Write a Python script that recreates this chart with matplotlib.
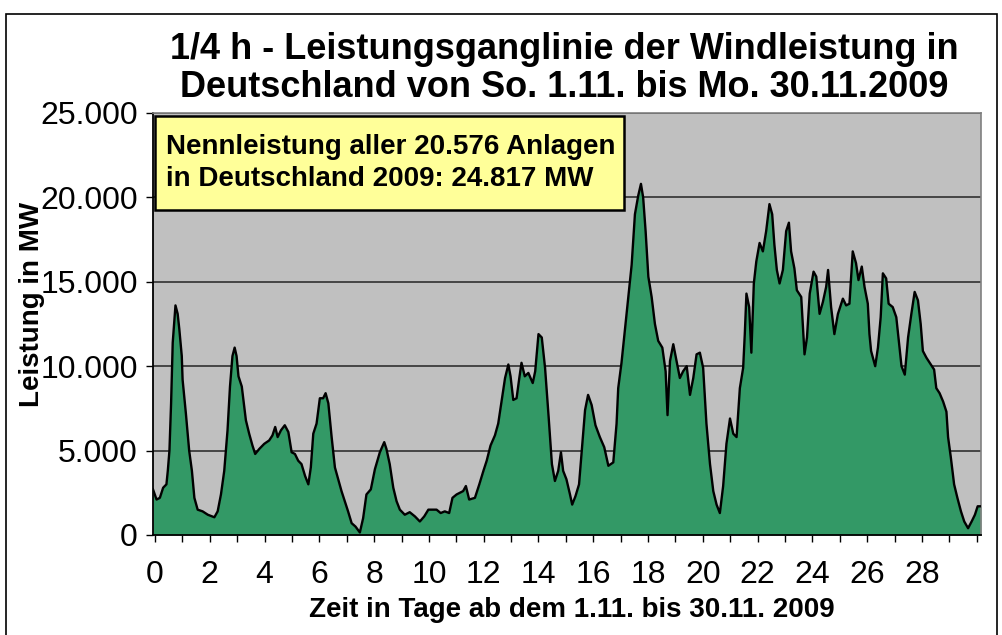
import matplotlib
matplotlib.use("Agg")
import matplotlib.pyplot as plt
from matplotlib.patches import Rectangle
from matplotlib.ticker import FuncFormatter, MultipleLocator

plt.rcParams['font.family'] = ['Liberation Sans', 'DejaVu Sans']

# Tage ab 1.11. und Windleistung in MW
tage = [-0.07, 0.06, 0.18, 0.30, 0.42, 0.47, 0.53, 0.59, 0.65, 0.75, 0.83, 0.89, 0.98, 1.01,
        1.13, 1.25, 1.35, 1.44, 1.56, 1.74, 1.93, 2.17, 2.29, 2.41, 2.53, 2.65, 2.74, 2.83,
        2.91, 2.98, 3.05, 3.17, 3.32, 3.44, 3.56, 3.66, 3.81, 3.99, 4.17, 4.29, 4.39, 4.48,
        4.60, 4.74, 4.87, 4.99, 5.11, 5.23, 5.35, 5.48, 5.60, 5.69, 5.78, 5.90, 6.02, 6.14,
        6.23, 6.33, 6.45, 6.57, 6.69, 6.81, 6.93, 7.05, 7.18, 7.32, 7.48, 7.60, 7.72, 7.88,
        8.03, 8.21, 8.37, 8.45, 8.57, 8.70, 8.82, 8.94, 9.12, 9.30, 9.49, 9.67, 9.83, 9.98,
        10.28, 10.43, 10.58, 10.74, 10.86, 11.01, 11.13, 11.25, 11.35, 11.47, 11.68, 11.84,
        11.99, 12.11, 12.25, 12.41, 12.53, 12.65, 12.78, 12.90, 12.98, 13.08, 13.20, 13.30,
        13.38, 13.50, 13.63, 13.79, 13.88, 14.00, 14.12, 14.24, 14.37, 14.49, 14.60, 14.72,
        14.82, 14.90, 15.02, 15.15, 15.23, 15.35, 15.48, 15.57, 15.70, 15.81, 15.94, 16.08,
        16.24, 16.40, 16.55, 16.73, 16.85, 16.91, 17.03, 17.15, 17.28, 17.40, 17.52, 17.64,
        17.74, 17.82, 17.91, 18.01, 18.13, 18.25, 18.37, 18.52, 18.64, 18.71, 18.80, 18.92,
        19.04, 19.16, 19.28, 19.41, 19.53, 19.65, 19.77, 19.89, 20.01, 20.13, 20.26, 20.38,
        20.50, 20.62, 20.74, 20.86, 20.99, 21.11, 21.23, 21.35, 21.47, 21.53, 21.59, 21.69,
        21.77, 21.86, 21.95, 22.07, 22.19, 22.31, 22.43, 22.53, 22.61, 22.70, 22.80, 22.92,
        23.04, 23.14, 23.22, 23.34, 23.43, 23.59, 23.71, 23.80, 23.90, 24.04, 24.14, 24.26,
        24.38, 24.50, 24.57, 24.68, 24.80, 24.93, 25.11, 25.23, 25.35, 25.47, 25.59, 25.68,
        25.80, 25.90, 26.02, 26.08, 26.14, 26.29, 26.39, 26.49, 26.57, 26.69, 26.78, 26.93,
        27.06, 27.14, 27.25, 27.37, 27.49, 27.61, 27.73, 27.85, 27.95, 28.03, 28.16, 28.28,
        28.44, 28.52, 28.64, 28.77, 28.89, 28.95, 29.05, 29.17, 29.29, 29.42, 29.54, 29.68,
        29.81, 29.93, 30.03, 30.15]
leistung = [2700, 2100, 2200, 2800, 3000, 3800, 5000, 7800, 11400, 13600, 13100, 12200, 10600, 9200,
            7200, 5000, 3800, 2200, 1500, 1400, 1200, 1050, 1400, 2400, 3800, 6200, 8800, 10600,
            11100, 10600, 9400, 8800, 6800, 6000, 5300, 4800, 5100, 5400, 5600, 5900, 6400, 5800,
            6200, 6500, 6100, 4900, 4800, 4400, 4200, 3500, 3000, 4000, 6000, 6600, 8100, 8100,
            8400, 7800, 5800, 4000, 3300, 2600, 2000, 1400, 700, 500, 150, 1000, 2400, 2700,
            3900, 4900, 5500, 5100, 4200, 2800, 2000, 1500, 1200, 1350, 1100, 800, 1100, 1500,
            1500, 1300, 1400, 1300, 2200, 2400, 2500, 2600, 2900, 2100, 2200, 3000,
            3800, 4400, 5300, 5900, 6600, 7900, 9300, 10100, 9400, 8000, 8100, 9300,
            10200, 9400, 9600, 9000, 9700, 11900, 11700, 9900, 7000, 4200, 3200, 3800,
            4900, 3800, 3300, 2400, 1800, 2300, 3000, 4800, 7400, 8300, 7700, 6500,
            5800, 5200, 4100, 4300, 6600, 8700, 10200, 12100, 14100, 16000, 19000, 20100,
            20800, 20000, 18000, 15300, 14100, 12500, 11500, 11100, 9700, 7100, 10300, 11300,
            10300, 9300, 9700, 10000, 8300, 9300, 10700, 10800, 9900, 6600, 4200, 2600,
            1800, 1300, 2900, 5400, 6900, 6000, 5800, 8700, 9900, 11900, 14300, 13500,
            10800, 14900, 16200, 17300, 16800, 18000, 19600, 19000, 17200, 15700, 14900, 15700,
            18000, 18500, 16800, 15800, 14500, 14100, 10700, 11700, 14300, 15600, 15300, 13100,
            13800, 14700, 15700, 13500, 11900, 13100, 14000, 13600, 13700, 16800, 16100, 15100,
            15900, 14700, 13700, 11900, 10900, 10000, 11100, 12900, 15500, 15200, 13700, 13500,
            12900, 11700, 10000, 9500, 11700, 13100, 14400, 13900, 12500, 10900, 10500, 10200,
            9800, 8700, 8400, 7900, 7300, 5800, 4600, 3000, 2200, 1400, 800, 400,
            800, 1200, 1700, 1700]

x_ticks = list(range(0, 30, 2))
y_ticks = [0, 5000, 10000, 15000, 20000, 25000]

fig = plt.figure(figsize=(10.02, 6.35), dpi=100)
ax = fig.add_axes([0.1527, 0.1575, 0.8263, 0.6646])
ax.set_facecolor('#C0C0C0')

ax.fill_between(tage, leistung, 0, color='#339966', linewidth=0, zorder=2)
ax.plot(tage, leistung, color='black', linewidth=1.7, zorder=3)

ax.set_xlim(-0.07, 30.15)
ax.set_ylim(0, 25000)
ax.set_xticks(x_ticks)
ax.xaxis.set_minor_locator(MultipleLocator(1))
ax.set_yticks(y_ticks)
ax.yaxis.set_major_formatter(FuncFormatter(lambda v, p: f"{int(v):,}".replace(',', '.')))
ax.grid(axis='y', color='#303030', linewidth=1.2, zorder=1)
ax.set_axisbelow(True)

ax.tick_params(axis='both', which='both', direction='out', length=5, width=1, color='black')
ax.tick_params(axis='x', labelsize=23, pad=13)
ax.tick_params(axis='y', labelsize=23, pad=6)

for s in ['left', 'bottom']:
    ax.spines[s].set_color('black')
    ax.spines[s].set_linewidth(1.3)
for s in ['top', 'right']:
    ax.spines[s].set_color('#808080')
    ax.spines[s].set_linewidth(1.2)

# Titel
fig.text(0.563, 0.922, "1/4 h - Leistungsganglinie der Windleistung in",
         ha='center', va='center', fontsize=26, fontweight='bold')
fig.text(0.563, 0.862, "Deutschland von So. 1.11. bis Mo. 30.11.2009",
         ha='center', va='center', fontsize=26, fontweight='bold')

fig.text(0.032, 0.52, "Leistung in MW", rotation=90, ha='center', va='center',
         fontsize=20, fontweight='bold')
fig.text(0.571, 0.04, "Zeit in Tage ab dem 1.11. bis 30.11. 2009", ha='center', va='center',
         fontsize=20, fontweight='bold')

# Kasten mit Nennleistung
fig.patches.append(Rectangle((155 / 1002, 1 - 210 / 635), 469 / 1002, 94 / 635,
                             transform=fig.transFigure, facecolor='#FFFF99',
                             edgecolor='black', linewidth=1.8, zorder=5))
fig.text(166 / 1002, 1 - 163 / 635, "Nennleistung aller 20.576 Anlagen\nin Deutschland 2009: 24.817 MW",
         ha='left', va='center', fontsize=20, fontweight='bold', linespacing=1.3, zorder=6)

# Rahmen
fig.patches.append(Rectangle((6 / 1002, -0.01), 991 / 1002, 1.01 - 14 / 635,
                             transform=fig.transFigure, fill=False,
                             edgecolor='black', linewidth=1.2))

fig.savefig('out.png', dpi=100)
